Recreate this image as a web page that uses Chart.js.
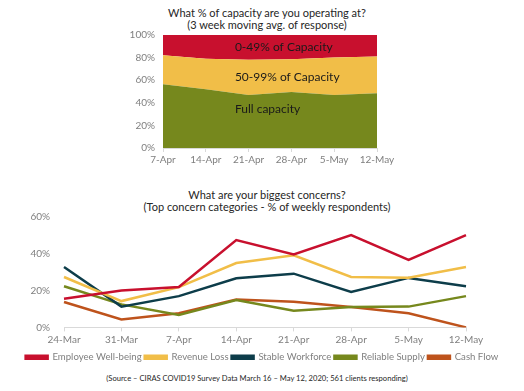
<!DOCTYPE html>
<html>
<head>
<meta charset="utf-8">
<script src="https://cdn.jsdelivr.net/npm/chart.js@4"></script>
<style>
  body { margin: 0; background: #fff; width: 524px; height: 391px; position: relative; overflow: hidden; font-family: Lato, "Open Sans", sans-serif; }
  .cv { position: absolute; left: 0; }
  .ttl { position: absolute; left: 0; width: 524px; text-align: center; color: #262626; font-size: 11px; line-height: 12px; }
  .src { position: absolute; left: 0; width: 524px; text-align: center; color: #262626; font-size: 7.6px; }
</style>
</head>
<body>
<div class="ttl" style="top:7px;left:5px">What % of capacity are you operating at?<br>(3 week moving avg. of response)</div>
<canvas id="capacityChart" class="cv" style="top:0"></canvas>
<div class="ttl" style="top:189px;left:5px">What are your biggest concerns?<br>(Top concern categories - % of weekly respondents)</div>
<canvas id="concernChart" class="cv" style="top:205px"></canvas>
<div class="src" style="top:373px;left:-5px">(Source – CIRAS COVID19 Survey Data March 16 – May 12, 2020; 561 clients responding)</div>

<script>
/**
 * DATA
 */
const capWeeks = ['7-Apr', '14-Apr', '21-Apr', '28-Apr', '5-May', '12-May'];
const fullCap = [56.5, 52, 47, 49.5, 47, 48.5];
const midCap = [25.5, 27, 31, 29, 33, 32.5];
const lowCap = [18, 21, 22, 21.5, 20, 19];
const capNames = ['Full capacity', '50-99% of Capacity', '0-49% of Capacity'];
const capLabelLevel = [34, 63, 89];

const concernWeeks = ['24-Mar', '31-Mar', '7-Apr', '14-Apr', '21-Apr', '28-Apr', '5-May', '12-May'];
const wellBeing = [15.6, 20, 22, 47.5, 39.6, 50.2, 36.7, 50.2];
const revenueLoss = [27.4, 14.3, 21.9, 35, 39.2, 27.4, 27, 32.8];
const stableWork = [32.8, 11.3, 17, 26.7, 29.2, 19.3, 26.9, 22.4];
const reliableSupply = [22.4, 12.5, 6.8, 14.9, 9, 11.1, 11.3, 17];
const cashFlow = [13.8, 4.3, 7.7, 15.2, 14, 11.1, 7.7, 0];
const concernNames = ['Employee Well-being', 'Revenue Loss', 'Stable Workforce', 'Reliable Supply', 'Cash Flow'];

const RED = '#C8102E', YEL = '#F1BE48', TEAL = '#0D3D4A', OLIVE = '#76881D', ORNG = '#BE531C';
const tickFont = { family: 'Lato, "Open Sans", sans-serif', size: 10 };
const tickColor = '#7F7F7F';
const axisGray = '#D9D9D9';

Chart.defaults.font.family = 'Lato, "Open Sans", sans-serif';
Chart.defaults.animation = false;

/**
 * TOP: stacked area
 */
const bandLabels = {
    id: 'bandLabels',
    afterDatasetsDraw(chart) {
        const { ctx, scales: { x, y } } = chart;
        ctx.save();
        ctx.fillStyle = '#1a1a1a';
        ctx.font = '12px Lato, "Open Sans", sans-serif';
        ctx.textAlign = 'left';
        ctx.textBaseline = 'middle';
        capNames.forEach((n, i) => {
            ctx.fillText(n, x.getPixelForValue(1.68), y.getPixelForValue(capLabelLevel[i]));
        });
        ctx.restore();
    }
};

const capCanvas = document.getElementById('capacityChart');
capCanvas.width = 524; capCanvas.height = 175;
new Chart(capCanvas, {
    type: 'line',
    data: {
        labels: capWeeks,
        datasets: [
            { label: capNames[0], data: fullCap, backgroundColor: OLIVE, fill: 'origin' },
            { label: capNames[1], data: midCap, backgroundColor: YEL, fill: '-1' },
            { label: capNames[2], data: lowCap, backgroundColor: RED, fill: '-1' }
        ].map(d => Object.assign(d, { borderWidth: 0, pointRadius: 0, tension: 0 }))
    },
    options: {
        responsive: false,
        layout: { padding: { left: 123, right: 147, top: 35, bottom: 5 } },
        plugins: { legend: { display: false }, tooltip: { enabled: false } },
        scales: {
            x: {
                offset: false,
                grid: { drawOnChartArea: false, color: axisGray, tickLength: 4 },
                border: { color: axisGray },
                ticks: { color: tickColor, font: tickFont, maxRotation: 0, padding: 2 },
                afterFit: s => { s.height = 22; }
            },
            y: {
                stacked: true, min: 0, max: 100,
                grid: { display: false },
                border: { display: false },
                ticks: { stepSize: 20, color: tickColor, font: tickFont, padding: 0, callback: v => v + '%' },
                afterFit: s => { s.width = 40; }
            }
        }
    },
    plugins: [bandLabels]
});

/**
 * BOTTOM: concern lines
 */
const conCanvas = document.getElementById('concernChart');
conCanvas.width = 524; conCanvas.height = 167;
const lineSets = [wellBeing, revenueLoss, stableWork, reliableSupply, cashFlow];
const lineColors = [RED, YEL, TEAL, OLIVE, ORNG];
new Chart(conCanvas, {
    type: 'line',
    data: {
        labels: concernWeeks,
        datasets: lineSets.map((d, i) => ({
            label: concernNames[i], data: d,
            borderColor: lineColors[i], backgroundColor: lineColors[i],
            borderWidth: 2.5, pointRadius: 0, tension: 0, fill: false
        }))
    },
    options: {
        responsive: false,
        layout: { padding: { left: 0, right: 0, top: 10, bottom: 0 } },
        plugins: {
            tooltip: { enabled: false },
            legend: {
                position: 'bottom',
                labels: { boxWidth: 22, boxHeight: 3, padding: 3, color: tickColor, font: { size: 9.6 } }
            }
        },
        scales: {
            x: {
                offset: false,
                grid: { drawOnChartArea: false, color: axisGray, tickLength: 4 },
                border: { color: axisGray },
                ticks: { color: tickColor, font: tickFont, maxRotation: 0, padding: 2 },
                afterFit: s => { s.height = 22; }
            },
            y: {
                min: 0, max: 60,
                grid: { display: false },
                border: { display: false },
                ticks: { stepSize: 20, color: tickColor, font: tickFont, padding: 6, callback: v => v + '%' },
                afterFit: s => { s.width = 64; }
            },
            yr: {
                position: 'right',
                grid: { display: false },
                border: { display: false },
                ticks: { display: false },
                afterFit: s => { s.width = 58; }
            }
        }
    }
});
</script>
</body>
</html>
